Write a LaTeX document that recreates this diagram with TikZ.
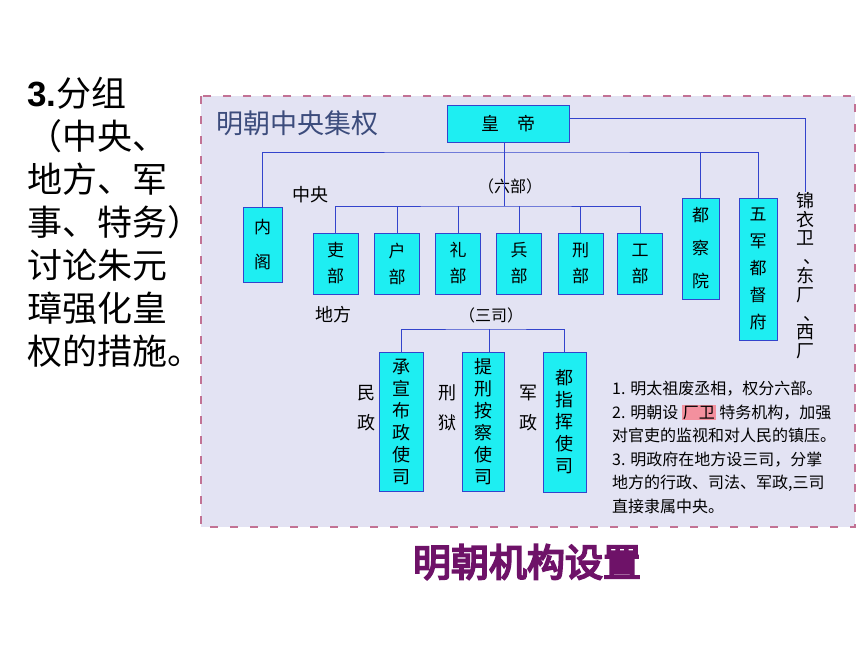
\documentclass[tikz,border=0pt]{standalone}
\usepackage{fontspec}
\setmainfont{Noto Sans CJK SC}
\newfontfamily\boldcjk[FakeBold=5]{Noto Sans CJK SC}
\newfontfamily\latinb{Liberation Sans}
\usetikzlibrary{positioning}
\definecolor{boxfill}{HTML}{1EEEF2}
\definecolor{boxline}{HTML}{3344CC}
\definecolor{panel}{HTML}{E3E3F3}
\definecolor{dashc}{HTML}{C27294}
\definecolor{titlec}{HTML}{3C4C7C}
\definecolor{capc}{HTML}{6E1268}
\definecolor{hl}{HTML}{F3909E}
\newcommand{\fs}[2]{\fontsize{#1}{#2}\selectfont}
\newcommand{\vdun}{\makebox[1em][l]{\hspace{0.4em}、}}
\tikzset{
  office/.style={draw=boxline, fill=boxfill, line width=1pt, inner sep=0pt, align=center},
  link/.style={draw=boxline, line width=1pt},
  tag/.style={inner sep=0pt, align=center, font=\fs{18}{30}},
}

\begin{document}
\begin{tikzpicture}[x=1pt,y=-1pt]

\useasboundingbox[fill=white] (0,0) rectangle (860,645);

% left question
\foreach \t [count=\i] in {{{\latinb\bfseries 3.}分组},（中央、,地方、军,事、特务）,讨论朱元,璋强化皇,权的措施。}
  \node[anchor=west, inner sep=0pt, font=\fs{35}{43}] (q\i) at (27,{93+43*(\i-1)}) {\t};

% panel
\draw[dashc, line width=2pt, dash pattern=on 8pt off 12pt, fill=panel] (201,96) rectangle (855,527);
\node[anchor=west, inner sep=0pt, text=titlec, font=\fs{27}{27}] (title) at (216,123) {明朝中央集权};

% emperor
\node[office, minimum width=122, minimum height=37, font=\fs{18}{20}] (hd) at (508,123.5) {皇\quad 帝};

% central offices
\node[office, minimum width=39, minimum height=75, font=\fs{17}{35}] (ng) at (262.5,244.5) {内\\阁};
\node[office, minimum width=45, minimum height=61, font=\fs{17}{26}] (lb) at (335.5,263.5) {吏\\部};
\node[office, minimum width=45, minimum height=61, font=\fs{17}{26}] (hb) at (397,263.5) {户\\部};
\node[office, minimum width=45, minimum height=61, font=\fs{17}{26}] (lib) at (458,263.5) {礼\\部};
\node[office, minimum width=45, minimum height=61, font=\fs{17}{26}] (bb) at (519,263.5) {兵\\部};
\node[office, minimum width=45, minimum height=61, font=\fs{17}{26}] (xb) at (580.5,263.5) {刑\\部};
\node[office, minimum width=45, minimum height=61, font=\fs{17}{26}] (gb) at (640,263.5) {工\\部};
\node[office, minimum width=37, minimum height=101, font=\fs{17}{33}] (dcy) at (700.5,248.5) {都\\察\\院};
\node[office, minimum width=38, minimum height=142, font=\fs{17}{27}] (wj) at (758,269) {五\\军\\都\\督\\府};
\node[tag, anchor=north, font=\fs{18}{18.8}] (jyw) at (805,192) {锦\\衣\\卫\\\vdun\\东\\厂\\\vdun\\西\\厂};

\node[tag] (zy) at (310,195) {中央};
\node[tag, font=\fs{16}{20}] (lbu) at (510,186) {（六部）};

% local offices
\node[tag] (df) at (333,315) {地方};
\node[tag, font=\fs{16}{20}] (ss) at (491,315) {（三司）};
\node[office, minimum width=44, minimum height=139, font=\fs{18}{22}] (cx) at (401,421.5) {承\\宣\\布\\政\\使\\司};
\node[office, minimum width=42, minimum height=139, font=\fs{18}{22}] (tx) at (483,421.5) {提\\刑\\按\\察\\使\\司};
\node[office, minimum width=43, minimum height=140, font=\fs{18}{22}] (dz) at (564.5,422) {都\\指\\挥\\使\\司};
\node[tag] (mz) at (366,408) {民\\政};
\node[tag] (xy) at (447,408) {刑\\狱};
\node[tag] (jz) at (528,408) {军\\政};

% connectors
\coordinate (bus1) at (504,152);
\coordinate (bus2) at (504,206);
\coordinate (bus3) at (489,329);
\draw[link] ([yshift=5pt]hd.east) -| (jyw.north);
\draw[link] (hd.south -| bus1) -- (bus2);
\draw[link] (ng.north) |- (bus1) -| (wj.north);
\draw[link] (bus1 -| dcy.north) -- (dcy.north);
\draw[link] (lb.north) |- (bus2) -| (gb.north);
\foreach \n in {hb,lib,bb,xb}
  \draw[link] (\n.north) -- (\n.north |- bus2);
\draw[link] (cx.north) |- (bus3) -| (dz.north);
\draw[link] (bus3) -- (bus3 |- tx.north);

% notes
\node[anchor=north west, inner sep=0pt, align=left, font=\fs{16}{23.5}] (notes) at (612,381)
  {1. 明太祖废丞相，权分六部。\\
   2. 明朝设 {\setlength\fboxsep{1pt}\colorbox{hl}{厂卫}} 特务机构，加强\\
   对官吏的监视和对人民的镇压。\\
   3. 明政府在地方设三司，分掌\\
   地方的行政、司法、军政,三司\\
   直接隶属中央。};

% caption
\node[inner sep=0pt, text=capc, font=\boldcjk\fs{38}{40}] (cap) at (527,562) {明朝机构设置};

\end{tikzpicture}
\end{document}
